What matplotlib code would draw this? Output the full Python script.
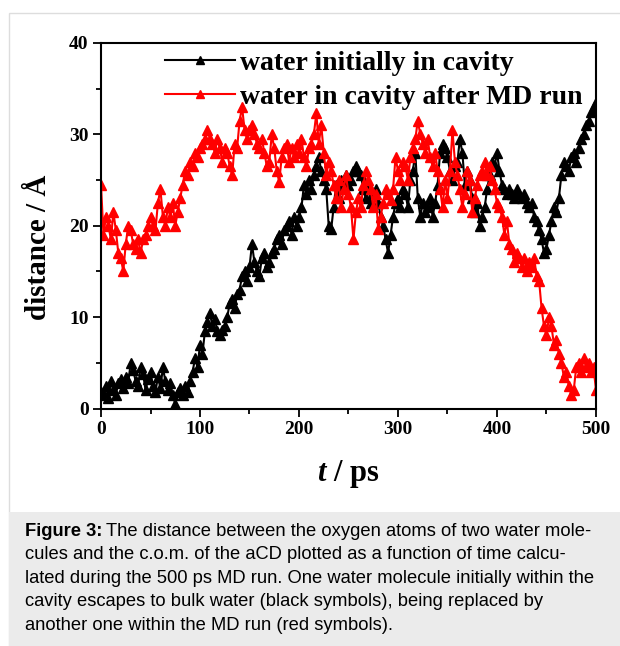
import numpy as np
import matplotlib
matplotlib.use("Agg")
import matplotlib.pyplot as plt
from matplotlib.patches import Rectangle
from matplotlib.ticker import MultipleLocator

# time grid (ps), one frame every 2.5 ps
t = np.arange(0, 500.1, 2.5)

# water initially in cavity (black)
d_initial = [
    1.5, 1.8, 2.5, 1.2, 3.0, 2.0, 1.5, 2.8, 3.2, 2.2,
    3.5, 2.8, 5.0, 4.2, 3.0, 2.5, 4.5, 3.8, 2.0, 3.2,
    4.0, 2.5, 1.8, 3.5, 2.2, 4.5, 3.0, 2.0, 2.8, 1.5,
    0.5, 1.8, 2.2, 1.5, 2.5, 1.8, 3.0, 4.0, 5.5, 4.5,
    7.0, 6.0, 8.5, 9.5, 10.5, 9.0, 9.8, 8.5, 8.0, 8.6,
    9.0, 10.0, 11.5, 12.0, 11.0, 12.5, 13.0, 14.5, 15.0, 14.0,
    15.5, 18.0, 16.0, 15.0, 14.5, 16.5, 17.0, 15.5, 16.0, 17.0,
    17.5, 18.5, 19.0, 18.0, 19.5, 20.0, 20.5, 19.0, 21.0, 20.0,
    21.0, 22.0, 24.5, 23.5, 25.0, 24.0, 25.5, 26.5, 27.5, 26.0,
    25.0, 24.0, 20.0, 19.6, 22.0, 24.5, 23.0, 25.0, 24.5, 25.5,
    24.5, 25.0, 26.0, 26.5, 26.0, 25.5, 24.0, 23.0, 24.5, 22.5,
    23.5, 24.0, 22.5, 21.0, 20.0, 18.5, 17.0, 19.0, 21.0, 22.5,
    23.0, 22.0, 24.0, 23.5, 22.0, 25.0, 26.0, 28.0, 23.0, 21.0,
    22.5, 21.5, 22.0, 23.0, 21.0, 22.5, 24.5, 28.0, 29.0, 28.5,
    27.5, 26.0, 25.0, 26.5, 27.0, 29.5, 28.0, 24.5, 26.0, 25.0,
    23.0, 21.5, 22.5, 20.0, 21.0, 22.0, 24.0, 25.5, 27.0, 26.5,
    28.0, 26.0, 24.5, 24.0, 23.5, 24.0, 23.5, 23.0, 24.0, 23.5,
    23.0, 23.5, 22.5, 22.0, 22.5, 21.0, 20.5, 19.5, 18.5, 17.0,
    17.5, 19.0, 20.5, 22.0, 21.5, 23.0, 25.5, 27.0, 26.5, 26.0,
    27.5, 28.0, 27.0, 28.5, 29.5, 30.0, 31.0, 31.5, 32.5, 33.0,
    33.5,
]

# water in cavity after MD run (red)
d_after = [
    24.5, 19.0, 21.0, 20.0, 18.5, 21.5, 19.5, 17.0, 16.5, 15.0,
    18.0, 20.0, 19.5, 18.0, 17.5, 18.5, 17.0, 18.5, 19.0, 20.0,
    21.0, 20.0, 19.5, 22.5, 24.0, 21.0, 20.0, 22.0, 21.0, 22.5,
    20.0, 21.5, 23.0, 24.5, 26.0, 25.5, 27.0, 26.5, 28.0, 27.5,
    28.5, 29.0, 29.5, 30.5, 29.5, 29.0, 28.0, 29.5, 28.5, 27.0,
    28.5, 28.0, 26.5, 25.5, 29.0, 28.5, 31.5, 33.0, 30.5, 29.5,
    30.5, 31.0, 30.0, 29.0, 28.5, 29.5, 28.0, 26.5, 27.0, 30.0,
    28.5, 26.0, 24.8, 27.5, 28.5, 29.0, 27.0, 28.5, 27.5, 29.0,
    28.0, 29.5, 27.5, 26.5, 28.5, 29.0, 30.0, 32.3, 29.0, 31.0,
    28.0, 25.5, 27.0, 26.0, 24.5, 23.0, 25.0, 22.0, 24.0, 25.5,
    23.5, 22.0, 18.5, 21.5, 23.0, 22.0, 24.5, 26.0, 25.0, 24.0,
    22.0, 23.5, 19.6, 21.0, 22.5, 24.0, 23.5, 22.8, 24.0, 27.5,
    26.0, 25.0, 27.0, 26.5, 25.0, 27.5, 28.5, 29.5, 31.5, 30.0,
    29.0, 28.0, 29.5, 27.5, 26.5, 28.0, 26.0, 24.0, 22.0, 25.0,
    23.0, 26.0, 30.5, 27.0, 25.5, 24.0, 22.0, 23.5, 26.0, 25.0,
    21.5, 23.0, 24.5, 25.5, 26.0, 27.0, 25.5, 26.5, 25.0, 24.0,
    22.5, 22.0, 21.0, 19.0, 20.5, 18.0, 17.5, 16.0, 17.0, 16.5,
    15.5, 16.5, 15.0, 16.0, 15.5, 16.5, 14.5, 14.0, 11.0, 9.0,
    8.0, 10.0, 9.0, 7.0, 7.5, 6.0, 5.0, 3.5, 4.0, 2.5,
    1.5, 2.0, 4.5, 5.0, 4.0, 5.5, 4.5, 5.0, 4.0, 4.5,
    2.0,
]

labels = ['water initially in cavity', 'water in cavity after MD run']
caption_lines = [
    'The distance between the oxygen atoms of two water mole-',
    'cules and the c.o.m. of the aCD plotted as a function of time calcu-',
    'lated during the 500 ps MD run. One water molecule initially within the',
    'cavity escapes to bulk water (black symbols), being replaced by',
    'another one within the MD run (red symbols).',
]

plt.rcParams['font.family'] = ['Liberation Serif', 'DejaVu Serif']
plt.rcParams['mathtext.fontset'] = 'custom'
plt.rcParams['mathtext.it'] = 'Liberation Serif:bold:italic'
plt.rcParams['mathtext.rm'] = 'Liberation Serif:bold'

W, H = 620, 646
fig = plt.figure(figsize=(W / 100, H / 100), dpi=100)

# panel border and grey caption box
fig.patches.append(Rectangle((9 / W, -0.01), 1.0, 1 - 13 / H + 0.01,
                             transform=fig.transFigure, facecolor='white',
                             edgecolor='#dddddd', linewidth=1.0, zorder=0))
fig.patches.append(Rectangle((9 / W, -0.01), 1.0, (H - 512) / H + 0.01,
                             transform=fig.transFigure, facecolor='#ebebeb',
                             edgecolor='none', zorder=1))

ax = fig.add_axes([101 / W, 1 - 408.5 / H, 495 / W, 365.5 / H])
ax.set_zorder(3)
ax.plot(t, d_initial, color='black', marker='^', markersize=7.5, lw=1.5,
        label=labels[0])
ax.plot(t, d_after, color='red', marker='^', markersize=7.5, lw=1.5,
        label=labels[1])

ax.set_xlim(0, 500)
ax.set_ylim(0, 40)
ax.xaxis.set_major_locator(MultipleLocator(100))
ax.xaxis.set_minor_locator(MultipleLocator(50))
ax.yaxis.set_major_locator(MultipleLocator(10))
ax.yaxis.set_minor_locator(MultipleLocator(5))
ax.tick_params(which='both', direction='out', width=1.3, top=False, right=False)
ax.tick_params(which='major', length=6, labelsize=14, pad=3)
ax.tick_params(which='minor', length=3.5)
for lab in ax.get_xticklabels() + ax.get_yticklabels():
    lab.set_fontweight('bold')
for sp in ax.spines.values():
    sp.set_linewidth(1.5)

ax.set_xlabel(r'$t$ / ps', fontsize=22, fontweight='bold')
ax.set_ylabel('distance / Å', fontsize=21, fontweight='bold')
ax.xaxis.set_label_coords(0.5, -0.135)
ax.yaxis.set_label_coords(-0.1, 0.44)

leg = ax.legend(loc='upper left', bbox_to_anchor=(0.13, 0.98), frameon=False,
                prop={'size': 20, 'weight': 'bold'}, numpoints=1,
                handlelength=2.5, handletextpad=0.18, labelspacing=0.3,
                borderpad=0, borderaxespad=0, markerscale=0.85)

# caption
y0 = 1 - 531 / H
step = 23.6 / H
cap_font = {'family': 'Liberation Sans', 'size': 13.2, 'va': 'center'}
bold = fig.text(25 / W, y0, 'Figure 3:', fontweight='bold', zorder=5, **cap_font)
fig.canvas.draw()
bb = bold.get_window_extent()
fig.text((bb.x1 + 4) / W, y0, caption_lines[0], zorder=5, **cap_font)
for i, line in enumerate(caption_lines[1:], start=1):
    fig.text(25 / W, y0 - i * step, line, zorder=5, **cap_font)

fig.savefig('out.png', dpi=100)
